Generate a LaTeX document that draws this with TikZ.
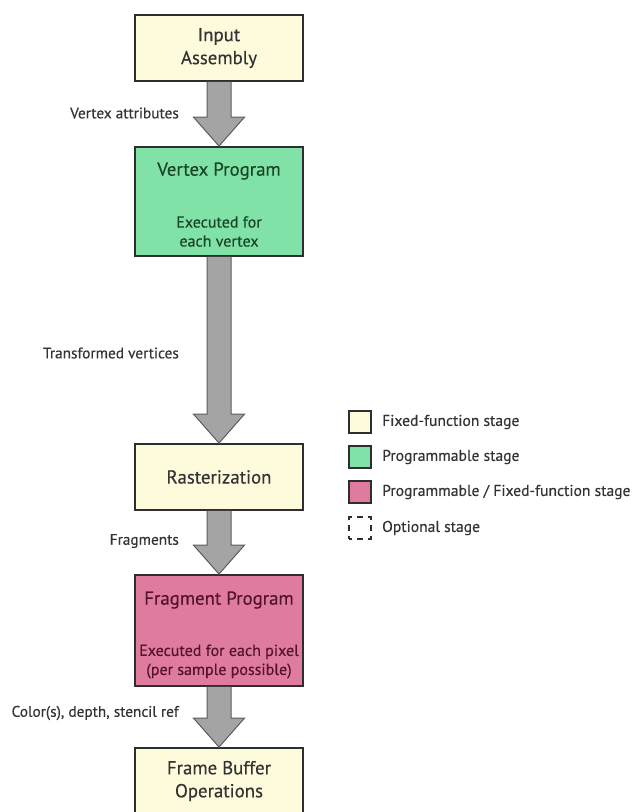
\documentclass[tikz,border=0pt]{standalone}
\usepackage{fontspec}
\setmainfont{PT Sans}[FakeBold=0.35]
\usetikzlibrary{calc}

\definecolor{fixedfill}{HTML}{FDFBDB}
\definecolor{progfill}{HTML}{80E2A6}
\definecolor{mixfill}{HTML}{E07BA0}
\definecolor{boxline}{HTML}{2E2E2E}
\definecolor{arrowfill}{HTML}{A4A4A4}
\definecolor{arrowline}{HTML}{5C5C5C}
\definecolor{labeltext}{HTML}{333333}
\definecolor{progtext}{HTML}{1A4528}
\definecolor{mixtext}{HTML}{54132C}

\tikzset{
  stagebox/.style={draw=boxline, line width=1.8pt, minimum width=168pt,
    inner sep=0pt, align=center, text=labeltext},
  fixedstage/.style={stagebox, fill=fixedfill},
  progstage/.style={stagebox, fill=progfill, text=progtext},
  mixstage/.style={stagebox, fill=mixfill, text=mixtext},
  plaintext/.style={draw=none, fill=none, inner sep=0pt, align=center},
  flowarrow/.style={draw=arrowline, fill=arrowfill, line width=1pt, line join=miter},
  flowlabel/.style={anchor=east, text=labeltext, font=\fontsize{15.3}{17}\selectfont, inner sep=0pt},
  keybox/.style={draw=boxline, line width=1.4pt, minimum width=22pt, minimum height=22pt, inner sep=0pt},
  keytext/.style={anchor=west, text=labeltext, font=\fontsize{15.6}{17}\selectfont, inner sep=0pt},
  title/.style={font=\fontsize{18.8}{23}\selectfont},
  note/.style={font=\fontsize{16}{19}\selectfont}
}

% block arrow from the bottom of one stage to the top of the next
\newcommand\stagearrow[2]{%
  \path[flowarrow]
    ($(#1.south)+(-12,0)$) -- ($(#2.north)+(-12,-29)$) -- ($(#2.north)+(-25.5,-29)$)
    -- (#2.north) -- ($(#2.north)+(25.5,-29)$) -- ($(#2.north)+(12,-29)$)
    -- ($(#1.south)+(12,0)$);}

\begin{document}
\begin{tikzpicture}[x=1pt, y=-1pt]
\useasboundingbox (0,0) rectangle (636,812);
\clip (0,0) rectangle (636,812);

% pipeline stages
\node[fixedstage, minimum height=66pt, title] (input) at (219,48) {Input\\Assembly};
\node[progstage, minimum height=109pt] (vertex) at (219,201.5) {};
\node[plaintext, text=progtext, title] (vtitle) at (219,171) {Vertex Program};
\node[plaintext, text=progtext, note] (vnote) at (219,231.5) {Executed for\\each vertex};
\node[fixedstage, minimum height=66pt, title] (raster) at (219,477) {Rasterization};
\node[mixstage, minimum height=111pt] (fragment) at (219,630.5) {};
\node[plaintext, text=mixtext, title] (ftitle) at (219,600) {Fragment Program};
\node[plaintext, text=mixtext, note] (fnote) at (219,661.5) {Executed for each pixel\\(per sample possible)};
\node[fixedstage, minimum height=66pt, title] (framebuf) at (219,781) {Frame Buffer\\Operations};

% data flowing between the stages
\stagearrow{input}{vertex}
\stagearrow{vertex}{raster}
\stagearrow{raster}{fragment}
\stagearrow{fragment}{framebuf}

\node[flowlabel] (l1) at (179,113) {Vertex attributes};
\node[flowlabel] (l2) at (179,353) {Transformed vertices};
\node[flowlabel] (l3) at (179,541) {Fragments};
\node[flowlabel] (l4) at (179,713) {Color(s), depth, stencil ref};

% key
\node[keybox, fill=fixedfill] (k1) at (360,422) {};
\node[keybox, fill=progfill] (k2) at (360,457) {};
\node[keybox, fill=mixfill] (k3) at (360,492) {};
\node[keybox, dashed, dash pattern=on 6pt off 5pt, dash phase=3pt, line width=1.3pt] (k4) at (360,528) {};
\node[keytext] (t1) at (382,422) {Fixed-function stage};
\node[keytext] (t2) at (382,457) {Programmable stage};
\node[keytext] (t3) at (382,492) {Programmable / Fixed-function stage};
\node[keytext] (t4) at (382,528) {Optional stage};
\end{tikzpicture}
\end{document}
